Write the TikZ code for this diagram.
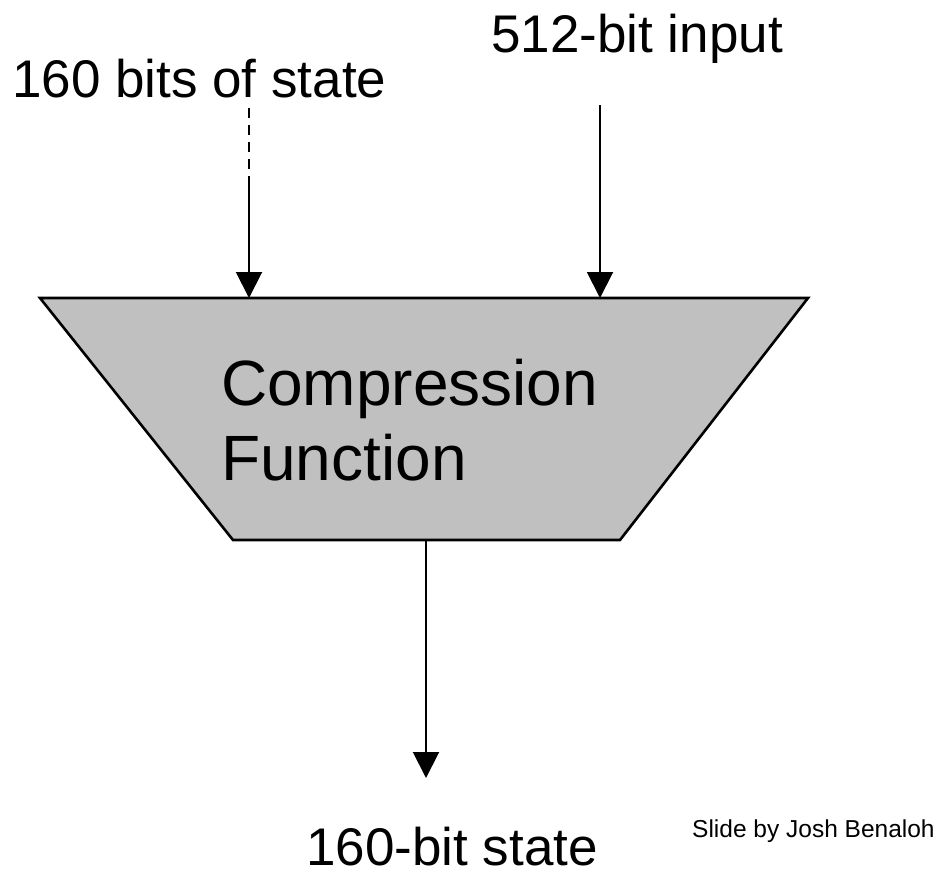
\documentclass[tikz,border=0pt]{standalone}
\usepackage{fontspec}
\setmainfont{Liberation Sans}
\usetikzlibrary{arrows.meta}
\begin{document}
\begin{tikzpicture}[x=1pt,y=-1pt,
  lbl/.style={font=\fontsize{53}{60}\selectfont, inner sep=0pt, anchor=base west},
  big/.style={font=\fontsize{64}{70}\selectfont, inner sep=0pt, anchor=base west},
  arr/.style={line width=2pt, -{Triangle[length=26pt,width=26pt]}}]
\useasboundingbox (0,0) rectangle (937,871);
\path[fill={rgb,255:red,192;green,192;blue,192}, draw=black, line width=2.6pt]
  (40,298) -- (808,298) -- (620,540) -- (233,540) -- cycle;
\coordinate (tl) at (249,298);
\coordinate (tr) at (600,298);
\coordinate (bt) at (426,540);
\coordinate (ls) at (249,108);
\coordinate (lm) at (249,183);
\coordinate (rs) at (600,105);
\coordinate (be) at (426,778);
\draw[line width=2pt, dash pattern=on 10pt off 7pt] (ls) -- (lm);
\draw[arr] (lm) -- (tl);
\draw[arr] (rs) -- (tr);
\draw[arr] (bt) -- (be);
\node[lbl] (n1) at (12,97) {160 bits of state};
\node[lbl] (n2) at (491,52) {512-bit input};
\node[big] (n3) at (221,405) {Compression};
\node[big] (n4) at (221,480) {Function};
\node[lbl] (n5) at (306,865) {160-bit state};
\node[inner sep=0pt, anchor=base west, font=\fontsize{24.5}{28}\selectfont] (n6) at (692,837) {Slide by Josh Benaloh};
\end{tikzpicture}
\end{document}
